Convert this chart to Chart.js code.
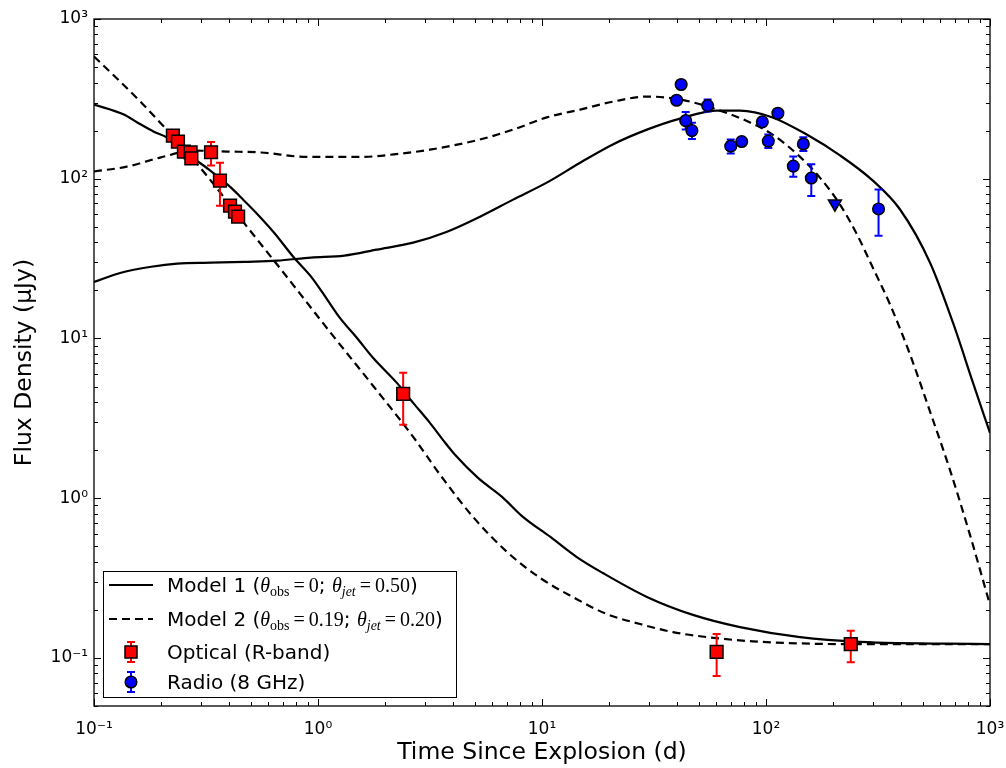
<!DOCTYPE html>
<html>
<head>
<meta charset="utf-8">
<script src="https://cdn.jsdelivr.net/npm/chart.js@4.4.1/dist/chart.umd.min.js"></script>
<style>
html,body{margin:0;padding:0;background:#fff;}
canvas{display:block;}
</style>
</head>
<body>
<canvas id="c" width="1006" height="768"></canvas>
<script>
// ---------- DATA ----------
// Model 1 (solid) optical light curve
const model1OptT = [0.1, 0.136, 0.156, 0.185, 0.212, 0.271, 0.326, 0.409, 0.468, 0.534, 0.637, 0.782, 0.931, 1.10, 1.25, 1.49, 1.76, 2.25, 2.66, 3.16, 3.61, 4.09, 5.18, 6.63, 8.22, 10.9, 14.3, 18.7, 29.4, 47.2, 76.5, 142, 263, 1000];
const model1OptF = [291, 252, 225, 197, 181, 138, 114, 87.9, 72.9, 60.4, 45.9, 32.0, 24.4, 17.5, 13.5, 10.1, 7.57, 5.27, 3.95, 2.96, 2.32, 1.87, 1.34, 1.02, 0.764, 0.572, 0.428, 0.340, 0.241, 0.186, 0.156, 0.135, 0.126, 0.122];
// Model 1 (solid) radio light curve
const model1RadT = [0.1, 0.132, 0.180, 0.235, 0.333, 0.468, 0.656, 0.931, 1.31, 1.83, 2.66, 3.77, 5.29, 7.43, 10.5, 14.8, 20.7, 29.4, 41.3, 60.4, 76.5, 107, 152, 214, 300, 396, 540, 684, 840, 1000];
const model1RadF = [22.6, 25.8, 28.1, 29.4, 29.8, 30.2, 30.7, 32.1, 33.0, 36.0, 39.8, 46.6, 57.9, 74.0, 94.5, 126, 164, 203, 238, 267, 267, 242, 189, 140, 97.3, 64.4, 29.8, 12.5, 5.27, 2.56];
// Model 2 (dashed) optical light curve
const model2OptT = [0.1, 0.128, 0.164, 0.205, 0.247, 0.319, 0.369, 0.482, 0.690, 1.13, 1.76, 2.66, 3.51, 4.92, 6.98, 9.80, 13.7, 19.5, 27.4, 38.5, 54.6, 87.5, 237, 1000];
const model2OptF = [582, 418, 296, 212, 159, 104.5, 80.8, 50.1, 26.6, 11.0, 5.06, 2.42, 1.40, 0.764, 0.461, 0.317, 0.241, 0.188, 0.163, 0.145, 0.135, 0.127, 0.122, 0.122];
// Model 2 (dashed) radio light curve
const model2RadT = [0.1, 0.140, 0.199, 0.279, 0.393, 0.557, 0.894, 1.56, 2.18, 3.16, 5.28, 7.43, 10.5, 14.8, 20.8, 29.4, 36.2, 45.8, 64.3, 84.9, 107, 142, 174, 214, 255, 300, 358, 440, 540, 663, 814, 1000];
const model2RadF = [111, 119, 136, 150, 148, 146, 137, 137, 142, 152, 176, 203, 242, 271, 304, 327, 322, 304, 263, 225, 189, 137, 101.6, 68.9, 44.7, 27.7, 16.3, 7.91, 3.48, 1.50, 0.589, 0.215];

// Optical (R-band) detections
const opticalT  = [0.225, 0.237, 0.252, 0.270, 0.272, 0.333, 0.365, 0.405, 0.426, 0.440, 2.40, 60.2, 239];
const opticalF  = [186, 171, 148, 146, 134, 146.5, 97.3, 67.8, 62.2, 58.0, 4.50, 0.109, 0.122];
const opticalLo = [null, null, null, null, null, 121, 67.8, null, null, null, 2.88, 0.077, 0.094];
const opticalHi = [null, null, null, null, null, 170, 126, null, null, null, 6.10, 0.141, 0.148];

// Radio (8 GHz) detections
const radioT  = [39.9, 41.8, 43.8, 46.7, 54.9, 69.6, 77.9, 96.3, 102.4, 113, 132.4, 146.8, 159.3, 318];
const radioF  = [310, 389, 231, 200, 287, 160, 171, 227, 172, 257, 120, 165, 101, 64.7];
const radioLo = [null, null, 203, 177, 264, 144, null, null, 156, null, 103, 149, 78, 44];
const radioHi = [null, null, 262, 224, 313, 176, null, null, 189, null, 138, 182, 123, 85.5];
// Radio upper limit
const radioLimT = [203];
const radioLimF = [69.8];

// Axis ticks
const tickValues = [0.1, 1, 10, 100, 1000];
const tickLabels = ['10\u207B\u00B9', '10\u2070', '10\u00B9', '10\u00B2', '10\u00B3'];
const xMin = 0.1, xMax = 1000, yMin = 0.05, yMax = 1000;

// Legend labels (text runs: [text, style])
const legendModel1 = [['Model 1 (', 't'], ['\u03B8', 'mi'], ['obs', 'sub'], ['\u2009=\u20090', 'm'], ['; ', 't'], ['\u03B8', 'mi'], ['jet', 'subi'], ['\u2009=\u20090.50', 'm'], [')', 't']];
const legendModel2 = [['Model 2 (', 't'], ['\u03B8', 'mi'], ['obs', 'sub'], ['\u2009=\u20090.19', 'm'], ['; ', 't'], ['\u03B8', 'mi'], ['jet', 'subi'], ['\u2009=\u20090.20', 'm'], [')', 't']];
const legendOptical = [['Optical (R-band)', 't']];
const legendRadio = [['Radio (8 GHz)', 't']];

// ---------- HELPERS ----------
function pts(t, f) { return t.map((v, i) => ({ x: v, y: f[i] })); }
function minorTicks(lo, hi) {
  const out = [];
  for (let e = -3; e <= 4; e++) {
    for (let m = 1; m <= 9; m++) {
      const v = m * Math.pow(10, e);
      if (v >= lo * 0.9999 && v <= hi * 1.0001) out.push(v);
    }
  }
  return out;
}
function isMajor(v) { return tickValues.some(t => Math.abs(t - v) / t < 1e-6); }
function labelFor(v) {
  const i = tickValues.findIndex(t => Math.abs(t - v) / t < 1e-6);
  return i >= 0 ? tickLabels[i] : '';
}

const DASH = [8, 5];

// ---------- PLUGINS ----------
const errorBars = {
  id: 'errorBars',
  beforeDatasetDraw(chart, args) {
    const ds = chart.data.datasets[args.index];
    if (!ds.errLo) return;
    const c = chart.ctx, xs = chart.scales.x, ys = chart.scales.y;
    c.save();
    c.strokeStyle = ds.errColor;
    c.lineWidth = 2;
    ds.data.forEach((p, i) => {
      const lo = ds.errLo[i], hi = ds.errHi[i];
      if (lo == null || hi == null) return;
      const px = xs.getPixelForValue(p.x);
      const y1 = ys.getPixelForValue(lo), y2 = ys.getPixelForValue(hi);
      c.beginPath();
      c.moveTo(px, y1); c.lineTo(px, y2);
      c.moveTo(px - 4, y1); c.lineTo(px + 4, y1);
      c.moveTo(px - 4, y2); c.lineTo(px + 4, y2);
      c.stroke();
    });
    c.restore();
  }
};

const frameTicks = {
  id: 'frameTicks',
  afterDatasetsDraw(chart) {
    const c = chart.ctx, a = chart.chartArea, xs = chart.scales.x, ys = chart.scales.y;
    c.save();
    c.strokeStyle = '#000';
    c.lineWidth = 1;
    xs.ticks.forEach(t => {
      const px = Math.round(xs.getPixelForValue(t.value)) + 0.5;
      const len = isMajor(t.value) ? 7 : 4;
      c.beginPath();
      c.moveTo(px, a.bottom); c.lineTo(px, a.bottom - len);
      c.moveTo(px, a.top); c.lineTo(px, a.top + len);
      c.stroke();
    });
    ys.ticks.forEach(t => {
      const py = Math.round(ys.getPixelForValue(t.value)) + 0.5;
      const len = isMajor(t.value) ? 7 : 4;
      c.beginPath();
      c.moveTo(a.left, py); c.lineTo(a.left + len, py);
      c.moveTo(a.right, py); c.lineTo(a.right - len, py);
      c.stroke();
    });
    c.lineWidth = 1.3;
    c.strokeRect(a.left, a.top, a.right - a.left, a.bottom - a.top);
    c.restore();
  }
};

const FONTS = {
  t: '20px "DejaVu Sans"',
  mi: 'italic 20px "Liberation Serif"',
  m: '20px "Liberation Serif"',
  sub: '14px "Liberation Serif"',
  subi: 'italic 14px "Liberation Serif"'
};

const customLegend = {
  id: 'customLegend',
  afterDraw(chart) {
    const c = chart.ctx;
    const box = { x: 103, y: 571, w: 353, h: 126 };
    c.save();
    c.fillStyle = '#fff';
    c.fillRect(box.x, box.y, box.w, box.h);
    c.strokeStyle = '#000';
    c.lineWidth = 1;
    c.strokeRect(box.x + 0.5, box.y + 0.5, box.w, box.h);

    const rows = [
      { kind: 'solid', y: 585, parts: legendModel1 },
      { kind: 'dashed', y: 619, parts: legendModel2 },
      { kind: 'optical', y: 652, parts: legendOptical },
      { kind: 'radio', y: 682, parts: legendRadio }
    ];
    rows.forEach(r => {
      c.save();
      if (r.kind === 'solid' || r.kind === 'dashed') {
        c.strokeStyle = '#000';
        c.lineWidth = 2.2;
        c.setLineDash(r.kind === 'dashed' ? DASH : []);
        c.beginPath(); c.moveTo(109, r.y); c.lineTo(153, r.y); c.stroke();
      } else {
        const cx = 131;
        c.strokeStyle = r.kind === 'optical' ? '#ff0000' : '#0000ff';
        c.lineWidth = 2;
        c.beginPath();
        c.moveTo(cx, r.y - 10); c.lineTo(cx, r.y + 10);
        c.moveTo(cx - 4, r.y - 10); c.lineTo(cx + 4, r.y - 10);
        c.moveTo(cx - 4, r.y + 10); c.lineTo(cx + 4, r.y + 10);
        c.stroke();
        c.lineWidth = 1.5;
        c.strokeStyle = '#000';
        if (r.kind === 'optical') {
          c.fillStyle = '#ff0000';
          c.beginPath(); c.rect(cx - 6, r.y - 6, 12, 12); c.fill(); c.stroke();
        } else {
          c.fillStyle = '#0000ff';
          c.beginPath(); c.arc(cx, r.y, 5.8, 0, Math.PI * 2); c.fill(); c.stroke();
        }
      }
      c.restore();
      let x = 167;
      c.fillStyle = '#000';
      c.textBaseline = 'alphabetic';
      const base = r.y + 7;
      r.parts.forEach(([txt, st]) => {
        c.font = FONTS[st];
        const dy = (st === 'sub' || st === 'subi') ? 4 : 0;
        c.fillText(txt, x, base + dy);
        x += c.measureText(txt).width;
      });
    });
    c.restore();
  }
};

// ---------- CHART ----------
const lineCommon = {
  showLine: true, pointRadius: 0, pointHoverRadius: 0, borderColor: '#000',
  borderWidth: 2.2, cubicInterpolationMode: 'monotone', fill: false, order: 1
};

function zeroPad(s) { s.paddingLeft = 0; s.paddingRight = 0; s.paddingTop = 0; s.paddingBottom = 0; }

new Chart(document.getElementById('c').getContext('2d'), {
  type: 'scatter',
  data: {
    datasets: [
      { label: 'Optical (R-band)', data: pts(opticalT, opticalF), errLo: opticalLo, errHi: opticalHi, errColor: '#ff0000',
        pointStyle: 'rect', pointRadius: 9, backgroundColor: '#ff0000', borderColor: '#000', borderWidth: 1.5, order: 0 },
      { label: 'Radio (8 GHz)', data: pts(radioT, radioF), errLo: radioLo, errHi: radioHi, errColor: '#0000ff',
        pointStyle: 'circle', pointRadius: 5.8, backgroundColor: '#0000ff', borderColor: '#000', borderWidth: 1.5, order: 0 },
      { label: 'Radio upper limit', data: pts(radioLimT, radioLimF),
        pointStyle: 'triangle', rotation: 180, pointRadius: 7.5, backgroundColor: '#0000ff', borderColor: '#000', borderWidth: 1.5, order: 0 },
      Object.assign({ label: 'Model 1 optical', data: pts(model1OptT, model1OptF) }, lineCommon),
      Object.assign({ label: 'Model 1 radio', data: pts(model1RadT, model1RadF) }, lineCommon),
      Object.assign({ label: 'Model 2 optical', data: pts(model2OptT, model2OptF), borderDash: DASH }, lineCommon),
      Object.assign({ label: 'Model 2 radio', data: pts(model2RadT, model2RadF), borderDash: DASH }, lineCommon)
    ]
  },
  options: {
    responsive: false,
    animation: false,
    devicePixelRatio: 1,
    layout: { padding: { left: 0, right: 16, top: 19, bottom: 0 } },
    plugins: { legend: { display: false }, tooltip: { enabled: false } },
    events: [],
    scales: {
      x: {
        type: 'logarithmic', min: xMin, max: xMax,
        grid: { display: false, drawTicks: false }, border: { display: false },
        afterBuildTicks: s => { s.ticks = minorTicks(xMin, xMax).map(v => ({ value: v })); },
        afterFit: s => { s.height = 62; zeroPad(s); },
        ticks: { autoSkip: false, maxRotation: 0, minRotation: 0, padding: 13, color: '#000',
                 font: { family: 'DejaVu Sans', size: 17 }, callback: v => labelFor(v) },
        title: { display: true, text: 'Time Since Explosion (d)', color: '#000',
                 font: { family: 'DejaVu Sans', size: 23.5 }, padding: { top: 0, bottom: 1 } }
      },
      y: {
        type: 'logarithmic', min: yMin, max: yMax,
        grid: { display: false, drawTicks: false }, border: { display: false },
        afterBuildTicks: s => { s.ticks = minorTicks(yMin, yMax).map(v => ({ value: v })); },
        afterFit: s => { s.width = 94; zeroPad(s); },
        ticks: { autoSkip: false, padding: 6, color: '#000',
                 font: { family: 'DejaVu Sans', size: 17 }, callback: v => labelFor(v) },
        title: { display: true, text: 'Flux Density (\u03BCJy)', color: '#000',
                 font: { family: 'DejaVu Sans', size: 23.5 }, padding: { top: 11, bottom: 0 } }
      }
    }
  },
  plugins: [errorBars, frameTicks, customLegend]
});
</script>
</body>
</html>
